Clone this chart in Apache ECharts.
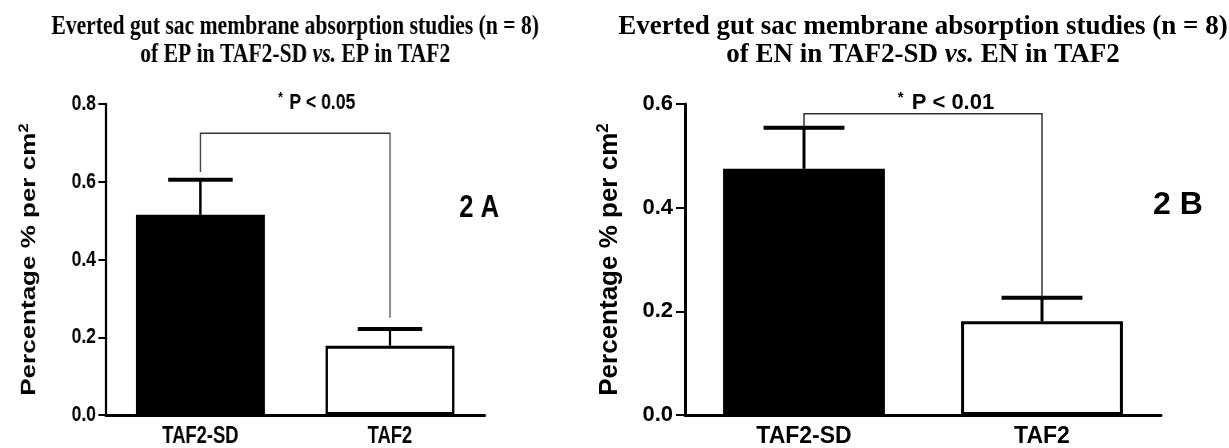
<!DOCTYPE html>
<html><head><meta charset="utf-8">
<script src="https://cdn.jsdelivr.net/npm/echarts@6/dist/echarts.min.js"></script>
<style>
html,body{margin:0;padding:0;background:#fff;width:1229px;height:448px;overflow:hidden;}
#a{position:absolute;left:0;top:0;width:760px;height:448px;transform:scaleX(0.8);transform-origin:0 0;}
#b{position:absolute;left:560px;top:0;width:669px;height:448px;}
</style></head><body>
<div id="a"></div><div id="b"></div>
<script>
// ---- data ----
const categories = ['TAF2-SD', 'TAF2'];
const epMean = [0.515, 0.178];
const epSD = [0.090, 0.043];
const enMean = [0.475, 0.181];
const enSD = [0.079, 0.045];
// bracket: [left end, bar height, right end]
const epBracket = [0.625, 0.725, 0.250];
const enBracket = [0.556, 0.581, 0.228];
const epTicks = [0, 0.2, 0.4, 0.6, 0.8];
const enTicks = [0, 0.2, 0.4, 0.6];
const epTitle = ['Everted gut sac membrane absorption studies (n = 8)', 'of EP in TAF2-SD ', 'vs.', ' EP in TAF2'];
const enTitle = ['Everted gut sac membrane absorption studies (n = 8)', 'of EN in TAF2-SD ', 'vs.', ' EN in TAF2'];
const epP = 'P < 0.05';
const enP = 'P < 0.01';
const epPanel = '2 A';
const enPanel = '2 B';
const yName = 'Percentage % per cm';

const SANS = '"Liberation Sans", Arial, sans-serif';
const SERIF = '"Liberation Serif", "Times New Roman", serif';

function build(c) {
  const mean = c.mean, sd = c.sd, ticks = c.ticks, br = c.bracket;
  const gridCx = c.grid.left + (c.width - c.grid.left - c.grid.right) / 2;
  return {
    animation: false,
    grid: { left: c.grid.left, right: c.grid.right, top: 104, bottom: 33 },
    xAxis: {
      type: 'category', data: categories,
      axisLine: { lineStyle: { color: '#000', width: 3 } },
      axisTick: { alignWithLabel: true, length: 8, lineStyle: { color: '#000', width: 2 } },
      axisLabel: { color: '#000', fontFamily: SANS, fontWeight: 'bold', fontSize: 23, margin: 10 }
    },
    yAxis: {
      type: 'value', min: ticks[0], max: ticks[ticks.length - 1], interval: ticks[1] - ticks[0],
      splitLine: { show: false },
      axisLine: { show: true, lineStyle: { color: '#000', width: 3 } },
      axisTick: { show: true, length: 9, lineStyle: { color: '#000', width: 2 } },
      axisLabel: { color: '#000', fontFamily: SANS, fontWeight: 'bold', fontSize: 22, margin: 12,
        formatter: v => v.toFixed(1) },
      name: '{a|' + yName + '}{s|2}',
      nameLocation: 'middle', nameRotate: 90, nameGap: c.nameGap,
      nameTextStyle: {
        rich: {
          a: { fontFamily: SANS, fontWeight: 'bold', fontSize: 26, color: '#000', lineHeight: 30 },
          s: { fontFamily: SANS, fontWeight: 'bold', fontSize: 17, color: '#000', lineHeight: 30, verticalAlign: 'top' }
        }
      }
    },
    graphic: [
      { type: 'text', x: gridCx, y: 13, style: {
          text: '{b|' + c.title[0] + '}\n{b|' + c.title[1] + '}{i|' + c.title[2] + '}{b|' + c.title[3] + '}',
          align: 'center', verticalAlign: 'top', fill: '#000',
          rich: {
            b: { fontFamily: SERIF, fontWeight: 'bold', fontSize: 27, lineHeight: 28, fill: '#000' },
            i: { fontFamily: SERIF, fontWeight: 'bold', fontStyle: 'italic', fontSize: 27, lineHeight: 28, fill: '#000' }
          } } },
      { type: 'text', x: c.pX, y: 103, style: {
          text: '{st|*}{p|' + c.p + '}', align: 'center', verticalAlign: 'middle',
          rich: {
            st: { fontFamily: SANS, fontWeight: 'bold', fontSize: 15, verticalAlign: 'top', lineHeight: 24, padding: [0, 8, 0, 0], fill: '#000' },
            p: { fontFamily: SANS, fontWeight: 'bold', fontSize: 22, lineHeight: 26, fill: '#000' }
          } } },
      { type: 'text', x: c.panelX, y: c.panelY, style: {
          text: c.panel, align: 'center', verticalAlign: 'middle',
          font: 'bold 32px ' + SANS, fill: '#000' } }
    ],
    series: [
      {
        type: 'bar', barWidth: '68%', z: 2,
        data: mean.map((v, i) => ({
          value: v,
          itemStyle: i === 0 ? { color: '#000', borderColor: '#000', borderWidth: 3 }
                             : { color: '#fff', borderColor: '#000', borderWidth: 3 }
        }))
      },
      {
        type: 'custom', z: 3,
        data: mean.map((v, i) => [i, v, v + sd[i]]),
        renderItem: (params, api) => {
          const b = api.coord([api.value(0), api.value(1)]);
          const t = api.coord([api.value(0), api.value(2)]);
          const bw = api.size([1, 0])[0] * 0.68;
          const half = bw * 0.25;
          return { type: 'group', children: [
            { type: 'line', shape: { x1: b[0], y1: b[1], x2: t[0], y2: t[1] }, style: { stroke: '#000', lineWidth: 3 } },
            { type: 'line', shape: { x1: t[0] - half, y1: t[1], x2: t[0] + half, y2: t[1] }, style: { stroke: '#000', lineWidth: 4 } }
          ] };
        }
      },
      {
        type: 'custom', z: 4,
        data: [[br[0], br[1], br[2]]],
        renderItem: (params, api) => {
          const p1 = api.coord([0, api.value(0)]);
          const p2 = api.coord([0, api.value(1)]);
          const p3 = api.coord([1, api.value(1)]);
          const p4 = api.coord([1, api.value(2)]);
          return { type: 'polyline', shape: { points: [p1, p2, p3, p4] },
                   style: { stroke: '#333', lineWidth: 1.5, fill: null } };
        }
      }
    ]
  };
}

const chartA = echarts.init(document.getElementById('a'));
chartA.setOption(build({
  mean: epMean, sd: epSD, ticks: epTicks, bracket: epBracket, title: epTitle,
  p: epP, panel: epPanel, width: 760, grid: { left: 132, right: 154 }, nameGap: 80,
  pX: 396, panelX: 599, panelY: 208
}));
const chartB = echarts.init(document.getElementById('b'));
chartB.setOption(build({
  mean: enMean, sd: enSD, ticks: enTicks, bracket: enBracket, title: enTitle,
  p: enP, panel: enPanel, width: 669, grid: { left: 125, right: 68 }, nameGap: 60,
  pX: 386, panelX: 618, panelY: 205
}));
</script>
</body></html>
